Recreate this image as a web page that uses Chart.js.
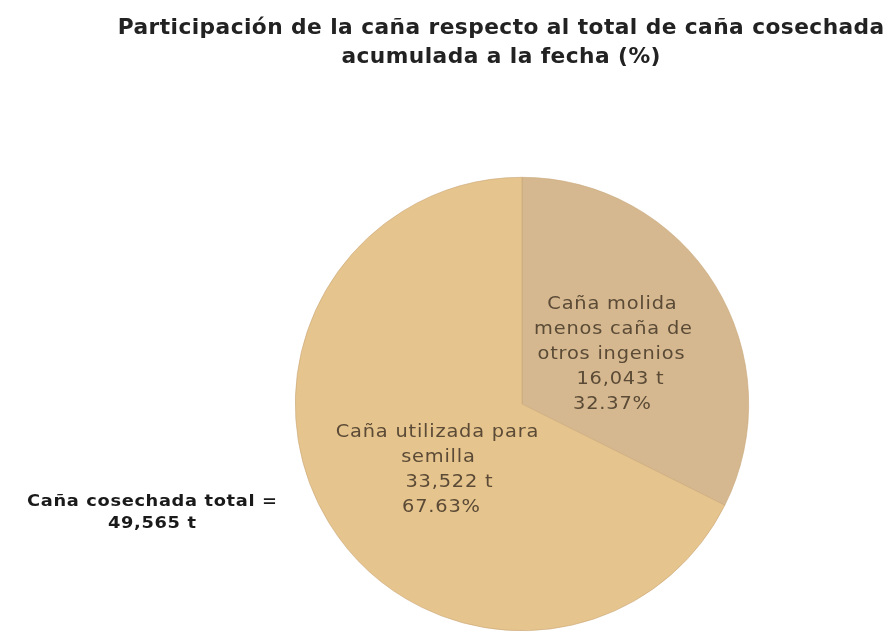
<!DOCTYPE html>
<html><head><meta charset="utf-8">
<script src="https://cdn.jsdelivr.net/npm/chart.js@4.4.0/dist/chart.umd.min.js"></script>
<style>html,body{margin:0;padding:0;background:#fff;}#wrap{width:894px;height:637px;}</style>
</head><body><div id="wrap"><canvas id="c" width="894" height="637"></canvas></div>
<script>
const titleLines = ['Participación de la caña respecto al total de caña cosechada', 'acumulada a la fecha (%)'];
const categories = ['Caña molida menos caña de otros ingenios', 'Caña utilizada para semilla'];
const values = [16043, 33522];
const valueLabels = ['16,043 t', '33,522 t'];
const pctLabels = ['32.37%', '67.63%'];
const totalLines = ['Caña cosechada total =', '49,565 t'];
const colors = ['#D5B88F', '#E6C48D'];

const labelLayout = [
  {lines: ['Caña molida', 'menos caña de', 'otros ingenios', valueLabels[0], pctLabels[0]], xs: [612, 613, 611, 620, 612], y0: 305},
  {lines: ['Caña utilizada para', 'semilla', valueLabels[1], pctLabels[1]], xs: [437, 438, 449, 441], y0: 433}
];

function wide(ctx, text, x, y, sp, sx) {
  ctx.save();
  ctx.translate(x, y);
  ctx.scale(sx, 1);
  ctx.letterSpacing = sp + 'px';
  ctx.fillText(text, sp / 2, 0);
  ctx.restore();
}

const textPlugin = {
  id: 'texts',
  afterDraw(chart) {
    const ctx = chart.ctx;
    ctx.save();
    ctx.textAlign = 'center';
    ctx.textBaseline = 'middle';
    ctx.fillStyle = '#222222';
    ctx.font = 'bold 20.5px "DejaVu Sans"';
    wide(ctx, titleLines[0], 501, 29, 0.4, 1.06);
    wide(ctx, titleLines[1], 501, 58, 0.4, 1.06);
    ctx.fillStyle = '#5a4a36';
    ctx.font = '17px "DejaVu Sans"';
    labelLayout.forEach(l => {
      l.lines.forEach((t, i) => wide(ctx, t, l.xs[i], l.y0 + i * 25, 0.7, 1.14));
    });
    ctx.fillStyle = '#1a1a1a';
    ctx.font = 'bold 16.5px "DejaVu Sans"';
    wide(ctx, totalLines[0], 152, 502, 0.6, 1.08);
    wide(ctx, totalLines[1], 152, 524, 0.6, 1.08);
    ctx.restore();
  }
};

new Chart(document.getElementById('c'), {
  type: 'pie',
  data: {
    labels: categories,
    datasets: [{data: values, backgroundColor: colors, borderWidth: 0.6, borderColor: '#c9a77a'}]
  },
  options: {
    responsive: false,
    animation: false,
    layout: {padding: {top: 177, bottom: 6, left: 295, right: 145}},
    plugins: {legend: {display: false}, tooltip: {enabled: false}, title: {display: false}}
  },
  plugins: [textPlugin]
});
</script></body></html>
